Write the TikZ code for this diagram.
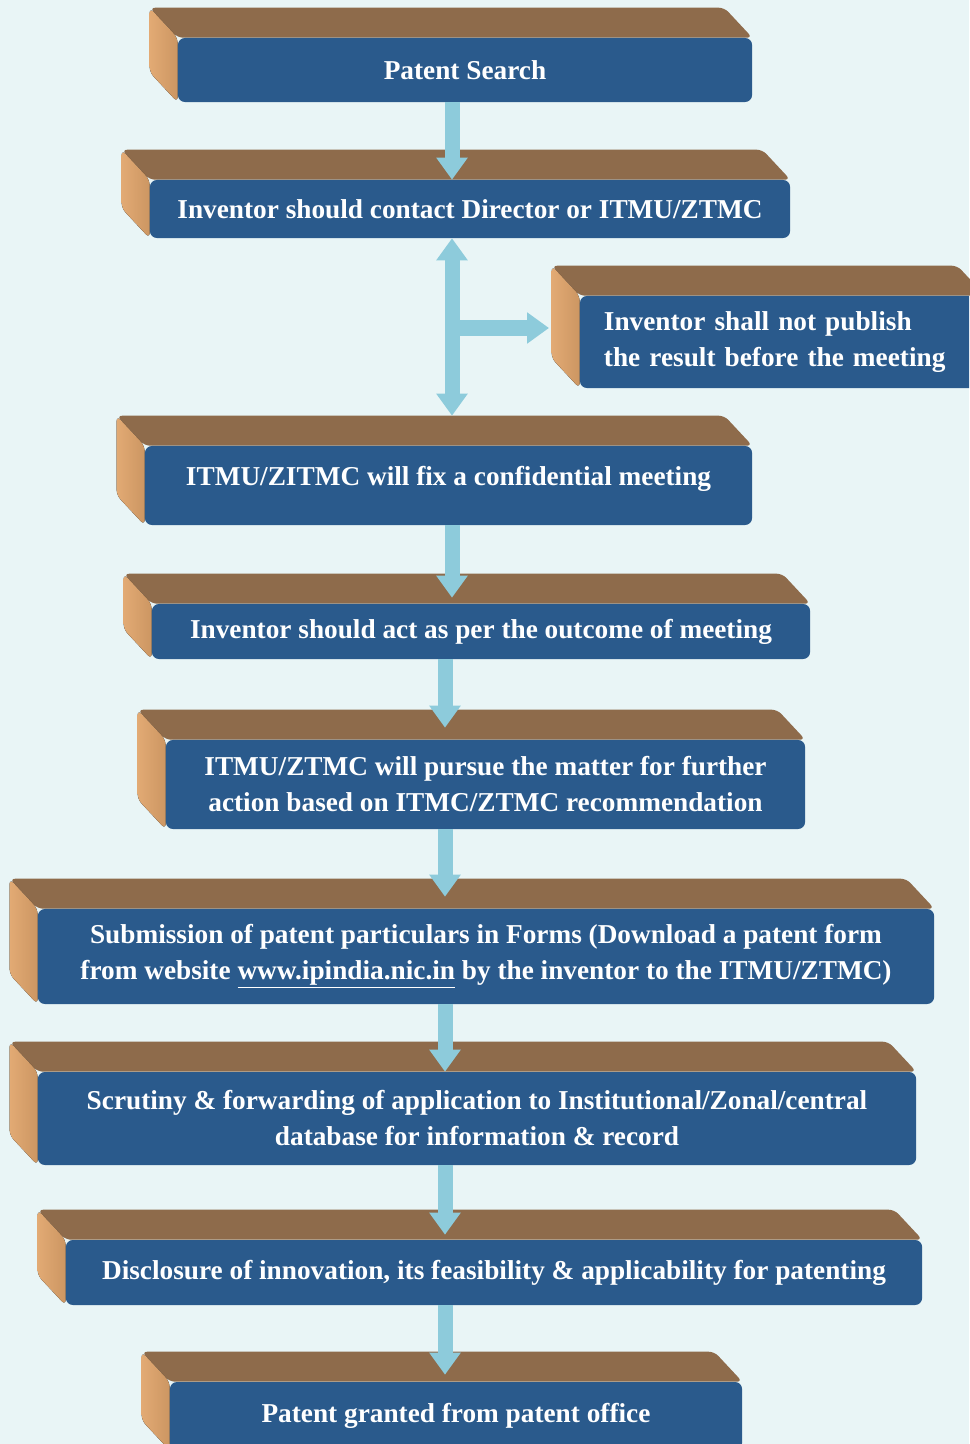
\documentclass[tikz,border=0pt]{standalone}
\usepackage{fontspec}
\setmainfont{Liberation Serif}
\usetikzlibrary{arrows.meta,calc}

\definecolor{bgcyan}{HTML}{E9F5F6}
\definecolor{boxblue}{HTML}{2A5A8C}
\definecolor{topbrown}{HTML}{8E6B4B}
\definecolor{sidetan}{HTML}{E2AA74}
\definecolor{sidetandark}{HTML}{CC9662}
\definecolor{flowcyan}{HTML}{8DCBDB}

\pgfdeclarelayer{back}
\pgfdeclarelayer{faces}
\pgfsetlayers{back,faces,main}

\begin{document}
\begin{tikzpicture}[
    x=0.025cm, y=-0.025cm,
    stepbox/.style={fill=boxblue, text=white, rounded corners=5pt, inner sep=0pt,
      align=center, font=\bfseries\fontsize{19.4}{25.6}\selectfont},
    topface/.style={fill=topbrown, rounded corners=4pt},
    leftface/.style={left color=sidetan, right color=sidetandark, rounded corners=4pt},
    flow/.style={draw=flowcyan, line width=0.375cm,
      -{Triangle[width=0.75cm,length=0.55cm]}},
    flowboth/.style={flow,
      {Triangle[width=0.75cm,length=0.55cm]}-{Triangle[width=0.75cm,length=0.55cm]}}
  ]

  \useasboundingbox (0,0) rectangle (969,1444);
  \begin{pgfonlayer}{back}
    \fill[bgcyan] (0,0) rectangle (969,1444);
  \end{pgfonlayer}
  \clip (0,0) rectangle (969,1444);

  % front faces of the steps
  \node[stepbox, minimum width=14.35cm, minimum height=1.6cm] (ps) at (465,70) {Patent Search};
  \node[stepbox, minimum width=16cm, minimum height=1.45cm] (contact) at (470,209)
    {Inventor should contact Director or ITMU/ZTMC};
  \node[stepbox, align=left, text width=8.925cm, inner xsep=0.6cm, minimum height=2.3cm]
    (side) at (782.5,342) {Inventor shall not publish\\the result before the meeting};
  \node[stepbox, minimum width=15.175cm, minimum height=1.975cm, text height=0.975cm,
    text depth=1cm] (meeting) at (448.5,485.5) {ITMU/ZITMC will fix a confidential meeting};
  \node[stepbox, minimum width=16.45cm, minimum height=1.375cm] (act) at (481,631.5)
    {Inventor should act as per the outcome of meeting};
  \node[stepbox, minimum width=15.975cm, minimum height=2.225cm] (pursue) at (485.5,784.5)
    {ITMU/ZTMC will pursue the matter for further\\action based on ITMC/ZTMC recommendation};
  \node[stepbox, minimum width=22.4cm, minimum height=2.375cm] (submit) at (486,956.5)
    {Submission of patent particulars in Forms (Download a patent form\\from website
     \underline{www.ipindia.nic.in} by the inventor to the ITMU/ZTMC)};
  \node[stepbox, minimum width=21.95cm, minimum height=2.325cm] (scrutiny) at (477,1118.5)
    {Scrutiny \& forwarding of application to Institutional/Zonal/central\\database for
     information \& record};
  \node[stepbox, minimum width=21.4cm, minimum height=1.625cm] (disclose) at (494,1272.5)
    {Disclosure of innovation, its feasibility \& applicability for patenting};
  \node[stepbox, minimum width=14.3cm, minimum height=1.7cm] (grant) at (456,1416)
    {Patent granted from patent office};

  % top and left faces
  \begin{pgfonlayer}{faces}
    \foreach \n in {ps,contact,side,meeting,act,pursue,submit,scrutiny,disclose,grant} {
      \fill[topface] (\n.north west) -- ++(-28,-30) -- ($(\n.north east)+(-28,-30)$)
        -- (\n.north east) -- cycle;
      \fill[leftface] (\n.north west) -- ++(-28,-30) -- ($(\n.south west)+(-28,-30)$)
        -- (\n.south west) -- cycle;
    }
  \end{pgfonlayer}

  \coordinate (colA) at (452,0);
  \coordinate (colB) at (445,0);
  \coordinate (split) at (452,328);
  \coordinate (sidetip) at (549,328);

  \draw[flow] (ps.south -| colA) -- (contact.north -| colA);
  \draw[flowboth] (contact.south -| colA) -- ($(meeting.north -| colA)+(0,-30)$);
  \draw[flow] (split) -- (sidetip);
  \draw[flow] (meeting.south -| colA) -- ($(act.north -| colA)+(0,-6)$);
  \draw[flow] (act.south -| colB) -- ($(pursue.north -| colB)+(0,-12)$);
  \draw[flow] (pursue.south -| colB) -- ($(submit.north -| colB)+(0,-12)$);
  \draw[flow] (submit.south -| colB) -- (scrutiny.north -| colB);
  \draw[flow] (scrutiny.south -| colB) -- ($(disclose.north -| colB)+(0,-5)$);
  \draw[flow] (disclose.south -| colB) -- ($(grant.north -| colB)+(0,-7)$);

\end{tikzpicture}
\end{document}
